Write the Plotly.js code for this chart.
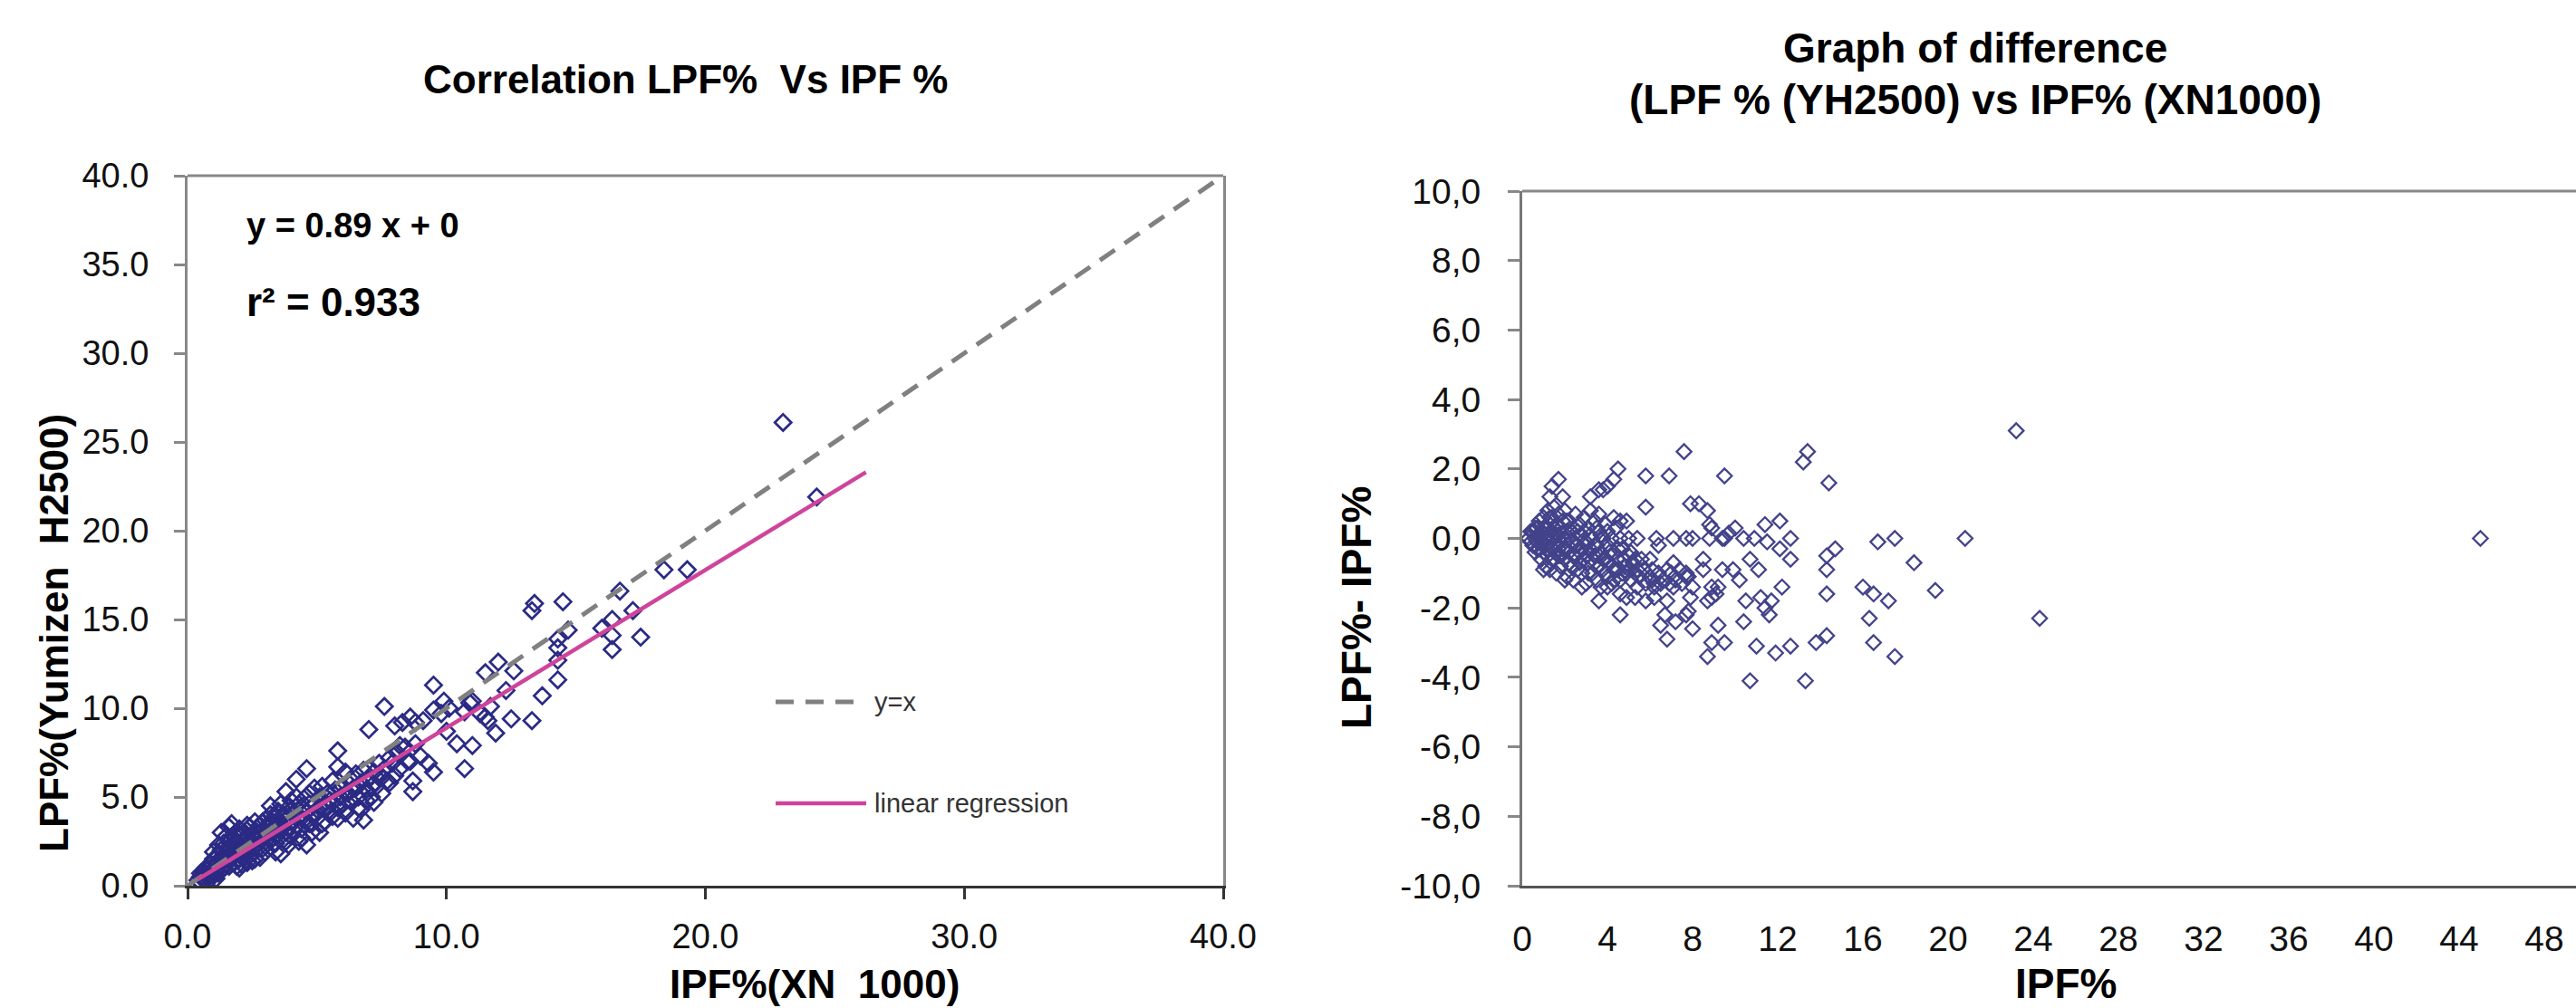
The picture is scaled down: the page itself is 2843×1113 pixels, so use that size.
<!DOCTYPE html>
<html>
<head>
<meta charset="utf-8">
<script src="https://cdn.plot.ly/plotly-3.0.1.min.js"></script>
<style>html,body{margin:0;padding:0;background:#fff;}#chart{width:2843px;height:1113px;}</style>
</head>
<body>
<div id="chart"></div>
<script>
// ---------- data: left chart (LPF% Yumizen H2500 vs IPF% XN 1000) ----------
const leftIPF = [
0.4,0.5,0.5,0.6,0.7,0.7,0.8,0.8,0.9,0.9,
1.0,1.0,1.0,1.1,1.1,1.2,1.2,1.2,1.3,1.3,
1.3,1.4,1.4,1.4,1.5,1.5,1.5,1.6,1.6,1.6,
1.7,1.7,1.7,1.8,1.8,1.8,1.9,1.9,2.0,2.0,
2.0,2.0,2.1,2.1,2.1,2.2,2.2,2.2,2.3,2.3,
2.4,2.4,2.4,2.5,2.5,2.5,2.6,2.6,2.6,2.7,
2.7,2.8,2.8,2.8,2.9,2.9,3.0,3.0,3.0,3.1,
3.1,3.2,3.2,3.2,3.3,3.3,3.4,3.4,3.5,3.5,
3.5,3.6,3.6,3.7,3.7,3.8,3.8,3.8,3.9,3.9,
4.0,4.0,4.0,4.1,4.1,4.2,4.2,4.2,4.3,4.3,
4.4,4.4,4.5,4.5,4.6,4.6,4.6,4.7,4.7,4.8,
4.8,4.9,4.9,5.0,5.0,5.1,5.2,5.3,5.3,5.4,
5.5,5.5,5.6,5.7,5.8,5.8,5.8,5.8,5.9,6.0,
6.0,6.1,6.2,6.3,6.3,6.4,6.4,6.5,6.6,6.6,
6.7,6.7,6.8,6.8,6.9,7.0,7.0,7.1,7.2,7.2,
7.3,7.4,7.5,7.5,7.6,7.7,7.8,7.8,8.0,8.0,
8.1,8.2,8.3,8.4,8.5,8.6,8.6,8.7,8.7,8.8,
8.8,9.0,9.1,9.3,9.5,9.5,9.5,9.8,9.9,10.0,
10.1,10.4,10.7,10.7,10.9,11.0,11.0,11.3,11.5,11.6,
11.9,11.5,11.7,12.0,12.3,12.5,12.6,13.3,13.3,13.4,
13.7,14.3,14.3,14.3,14.3,14.5,14.7,16.0,16.4,16.4,
16.4,16.7,17.2,17.5,18.4,19.3,23.0,24.3,
0.6,1.1,1.9,2.3,3.4,3.9,4.4,5.1,5.6,6.1,
0.5,0.7,0.9,1.0,1.2,1.3,1.5,1.6,1.8,1.9,
2.0,2.1,2.2,2.3,2.4,2.5,2.6,2.7,2.8,2.9,
3.0,3.1,3.2,3.3,3.4,3.5,3.6,3.7,3.8,3.9,
4.0,4.1,4.3,4.4,4.5,4.7,4.9,5.1,5.2,5.4,
5.6,5.9,6.1,6.5,6.9,7.1,7.4,7.6,7.9,8.2
];
const leftLPF = [
0.3,0.2,0.5,0.4,0.6,0.3,0.9,0.5,0.7,1.2,
0.6,1.0,1.5,0.8,1.3,1.1,1.7,0.7,1.4,2.0,
3.0,1.0,1.6,2.4,1.3,1.9,2.8,1.1,2.2,3.3,
1.6,2.6,3.5,1.3,2.0,2.9,1.8,2.4,1.5,2.1,
2.8,3.2,1.2,1.9,2.5,1.6,2.3,3.0,2.0,2.7,
1.7,2.4,3.3,1.4,2.1,2.9,1.9,2.6,3.6,2.3,
3.0,1.6,2.7,3.4,2.1,3.1,2.5,3.7,1.9,2.9,
3.3,2.2,4.5,3.6,2.7,3.1,3.9,2.4,3.2,4.2,
2.9,1.8,3.5,2.6,4.0,3.0,5.3,3.7,3.3,4.4,
2.8,3.6,4.8,3.1,4.1,6.0,3.4,5.0,3.9,2.5,
4.4,3.2,3.7,4.9,6.6,2.3,4.2,3.5,5.2,4.0,
3.0,4.6,5.5,3.8,4.3,5.0,3.5,4.6,3.6,5.2,
4.1,4.8,3.9,5.4,6.7,7.6,4.4,3.8,5.0,4.6,
5.6,4.1,5.2,6.0,4.8,3.8,5.5,6.3,5.0,4.4,
4.3,5.8,3.7,6.5,5.4,8.8,6.0,5.0,4.7,6.4,
5.6,6.9,5.2,6.1,10.1,5.9,5.8,7.2,6.2,9.0,
7.5,6.6,9.2,7.8,7.0,9.5,7.0,5.3,5.9,8.0,
9.2,7.3,9.3,6.9,6.4,9.9,11.3,9.7,10.4,8.7,
10.0,8.0,9.8,6.6,10.3,7.9,10.4,9.7,9.5,9.3,
8.6,12.0,10.1,12.6,11.0,9.4,12.1,9.3,15.5,15.9,
10.7,13.9,13.4,12.7,11.6,16.0,14.4,14.5,15.0,14.1,
13.3,16.6,15.5,14.0,17.8,17.8,26.1,21.9,
0.8,0.4,1.1,1.3,1.9,2.3,2.7,3.0,4.7,6.4,
0.7,1.0,0.4,1.9,2.3,0.9,2.3,1.6,2.4,3.0,
1.0,2.9,1.9,3.4,2.0,2.5,1.5,2.7,2.2,3.6,
3.0,2.4,4.0,3.5,2.8,3.7,4.6,3.3,2.5,3.9,
4.3,3.6,4.6,3.8,4.3,4.6,4.0,4.4,5.6,4.4,
5.9,5.5,5.2,5.5,4.8,5.6,6.3,6.6,6.9,7.9
];
const identityX = [0, 40];
const identityY = [0, 40];
const regressionX = [0.4, 26.2];
const regressionY = [0.36, 23.3];

// ---------- data: right chart (difference LPF% - IPF% vs IPF%) ----------
const diffIPF = [
0.3,0.4,0.5,0.5,0.6,0.6,0.7,0.7,0.8,0.8,
0.8,0.9,0.9,1.0,1.0,1.0,1.1,1.1,1.1,1.2,
1.2,1.2,1.3,1.3,1.3,1.4,1.4,1.4,1.5,1.5,
1.5,1.6,1.6,1.6,1.7,1.7,1.7,1.8,1.8,1.8,
1.9,1.9,2.0,2.0,2.0,2.1,2.1,2.2,2.2,2.3,
2.3,2.4,2.4,2.5,2.5,2.5,2.6,2.6,2.7,2.7,
2.8,2.8,2.9,2.9,3.0,3.0,3.1,3.1,3.2,3.2,
3.3,3.3,3.4,3.4,3.5,3.5,3.6,3.6,3.7,3.7,
3.8,3.8,3.9,3.9,4.0,4.0,4.1,4.2,4.2,4.3,
4.4,4.4,4.5,4.6,4.6,4.7,4.8,4.9,5.0,5.1,
5.2,5.3,5.5,5.6,5.8,6.0,6.2,6.4,6.6,6.8,
6.9,7.2,7.5,7.7,3.6,4.3,4.6,4.9,5.4,5.0,
7.6,13.4,13.2,14.4,9.5,6.9,5.8,5.8,4.5,4.3,
4.0,3.8,3.6,3.2,1.7,1.4,1.9,1.3,7.9,8.3,
8.7,8.8,8.9,11.4,12.1,10.0,9.7,9.5,6.3,7.1,
7.7,8.0,8.8,9.4,10.4,10.9,12.6,16.7,17.5,20.8,
23.2,45.0,18.4,19.4,17.2,17.5,24.3,16.0,16.5,16.3,
16.5,14.7,14.3,14.3,14.3,14.3,13.8,13.3,10.7,12.6,
11.9,11.0,8.7,8.9,9.5,6.8,6.5,7.2,8.0,9.2,
10.4,11.6,11.4,11.7,11.2,12.2,12.6,10.7,11.1,10.5,
10.2,9.9,9.4,9.1,8.9,8.7,9.2,8.9,8.5,8.5,
8.0,7.9,7.8,7.7,7.4,7.7,7.8,7.1,7.1,6.8,
6.7,6.2,5.8,6.2,6.1,6.4,6.0,5.4,5.4,5.3,
4.9,4.6,4.6,3.6,2.8,2.0,1.0,4.0,4.3,4.5,
4.8,5.1,12.1,11.5,
0.4,0.6,0.7,0.9,1.0,1.1,1.2,1.3,1.4,1.5,
1.6,1.7,1.8,1.9,2.0,2.1,2.2,2.3,2.4,2.5,
2.6,2.7,2.8,2.9,3.0,3.1,3.2,3.3,3.4,3.5,
3.6,3.7,3.8,3.9,4.0,4.1,4.3,4.5,4.7,5.0,
5.3,5.7,6.1,6.5,7.0
];
const diffValue = [
0.0,-0.1,0.2,-0.2,0.0,-0.4,0.3,-0.1,0.5,-0.3,
0.1,-0.6,0.2,0.0,-0.4,0.6,-0.2,0.3,-0.8,0.1,
-0.5,0.8,-0.1,0.4,-0.9,0.2,-0.3,0.6,-0.6,0.0,
0.9,-0.2,0.4,-1.0,0.1,-0.5,0.7,-0.1,0.3,-0.8,
0.5,-0.3,0.0,-0.6,0.8,-1.1,0.2,-0.4,0.5,-0.1,
-0.8,0.3,-1.2,0.0,-0.5,0.7,-0.2,-0.9,0.4,-0.4,
0.1,-1.0,-0.6,0.6,-0.1,-1.3,0.3,-0.7,-0.3,0.8,
-1.0,0.0,-0.5,0.5,-0.2,-1.2,-0.8,0.2,-0.4,-1.4,
0.0,-0.9,-0.6,0.4,-1.1,-0.2,-0.7,0.0,-1.3,-0.4,
-0.9,0.3,-0.6,-1.2,0.0,-0.3,-0.8,-1.0,-0.5,-1.2,
-0.7,-1.0,-1.1,-0.6,-1.3,-1.1,-1.4,-1.0,-1.2,-0.9,
-1.3,-1.2,-1.3,-1.1,0.7,0.6,0.5,0.5,0.0,0.0,
2.5,2.5,2.2,1.6,1.8,1.8,1.8,0.9,2.0,1.7,
1.5,1.4,1.4,1.2,1.7,1.5,1.2,1.2,1.0,1.0,
0.8,0.4,0.3,0.4,0.5,0.3,0.15,0.0,0.0,0.0,
0.0,0.0,0.0,0.0,0.0,0.0,0.0,-0.1,0.0,0.0,
3.1,0.0,-0.7,-1.5,-1.8,-3.4,-2.3,-1.4,-1.6,-2.3,
-3.0,-0.3,-0.5,-0.9,-1.6,-2.8,-3.0,-4.1,-4.1,-3.1,
-3.3,-3.1,-3.4,-3.0,-3.0,-2.9,-2.5,-2.4,-2.6,-2.5,
-2.4,-2.2,-2.0,-1.8,-1.7,-1.4,-0.6,-0.6,-0.9,-1.8,
-1.2,-0.9,-0.9,-1.6,-1.7,-1.8,-1.4,-1.4,-0.9,-0.6,
-1.4,-1.7,-2.1,-2.2,-0.9,-1.0,-1.1,-1.4,-0.7,-1.8,
-2.2,-1.7,-1.8,-1.3,-0.9,-0.2,-0.6,-0.9,-1.4,-1.7,
-1.7,-1.6,-2.2,-1.8,-1.4,-1.2,-0.9,-1.4,-1.2,-0.9,
-0.6,-0.4,-0.3,-0.1,
0.2,0.3,-0.3,-0.1,0.3,0.0,-0.3,0.6,-0.6,0.3,
0.1,-0.3,-0.5,0.1,-0.3,0.5,-0.7,0.2,-0.5,-0.2,
0.2,-0.7,-0.3,0.2,-0.5,-1.0,0.1,-0.6,-0.2,0.3,
-0.5,0.1,-0.6,-1.0,0.2,-0.4,-0.9,-0.3,-1.0,-0.9,
-0.6,-0.9,-1.2,-1.3,-1.0
];

// ---------- tick labels ----------
const leftXTicks = [0, 10, 20, 30, 40];
const leftXLabels = ['0.0', '10.0', '20.0', '30.0', '40.0'];
const leftYTicks = [0, 5, 10, 15, 20, 25, 30, 35, 40];
const leftYLabels = ['0.0', '5.0', '10.0', '15.0', '20.0', '25.0', '30.0', '35.0', '40.0'];
const rightXTicks = [0, 4, 8, 12, 16, 20, 24, 28, 32, 36, 40, 44, 48];
const rightXLabels = ['0', '4', '8', '12', '16', '20', '24', '28', '32', '36', '40', '44', '48'];
const rightYTicks = [-10, -8, -6, -4, -2, 0, 2, 4, 6, 8, 10];
const rightYLabels = ['-10,0', '-8,0', '-6,0', '-4,0', '-2,0', '0,0', '2,0', '4,0', '6,0', '8,0', '10,0'];

// ---------- layout helpers (pixel -> paper) ----------
const W = 2843, H = 1113;
const fx = p => p / W;
const fy = p => 1 - p / H;
const FONT = 'Liberation Sans, Arial, Helvetica, sans-serif';

const traces = [
  { type: 'scatter', mode: 'markers', x: leftIPF, y: leftLPF, xaxis: 'x', yaxis: 'y',
    marker: { symbol: 'diamond-open', size: 14, color: '#2b2b85', line: { width: 2.7, color: '#2b2b85' } },
    hoverinfo: 'x+y' },
  { type: 'scatter', mode: 'lines', x: identityX, y: identityY, xaxis: 'x', yaxis: 'y',
    line: { color: '#808080', width: 5, dash: '20px,13px' }, name: 'y=x' },
  { type: 'scatter', mode: 'lines', x: regressionX, y: regressionY, xaxis: 'x', yaxis: 'y',
    line: { color: '#cf449b', width: 4.5 }, name: 'linear regression' },
  { type: 'scatter', mode: 'markers', x: diffIPF, y: diffValue, xaxis: 'x2', yaxis: 'y2',
    marker: { symbol: 'diamond-open', size: 12.5, color: '#43438b', line: { width: 2.3, color: '#43438b' } },
    hoverinfo: 'x+y' }
];

const tickFontL = { family: FONT, size: 38, color: '#111' };
const tickFontR = { family: FONT, size: 39, color: '#111' };

const layout = {
  width: W, height: H,
  margin: { l: 0, r: 0, t: 0, b: 0, pad: 0 },
  paper_bgcolor: '#ffffff', plot_bgcolor: '#ffffff',
  showlegend: false,
  font: { family: FONT },
  xaxis: {
    domain: [fx(207), fx(1350)], range: [0, 40], anchor: 'y',
    tickmode: 'array', tickvals: leftXTicks, ticktext: leftXLabels,
    ticks: 'outside', ticklen: 12, tickwidth: 3, tickcolor: '#333',
    showline: true, linecolor: '#333', linewidth: 3,
    showgrid: false, zeroline: false, tickfont: tickFontL, ticklabelstandoff: 8
  },
  yaxis: {
    domain: [fy(978), fy(194)], range: [0, 40], anchor: 'x',
    tickmode: 'array', tickvals: leftYTicks, ticktext: leftYLabels,
    ticks: 'outside', ticklen: 12, tickwidth: 3, tickcolor: '#888',
    showline: true, linecolor: '#888', linewidth: 3, mirror: true,
    showgrid: false, zeroline: false, tickfont: tickFontL, ticklabelstandoff: 20
  },
  xaxis2: {
    domain: [fx(1680), 1], range: [0, 49.49], anchor: 'y2',
    tickmode: 'array', tickvals: rightXTicks, ticktext: rightXLabels,
    ticks: '', showline: true, linecolor: '#555', linewidth: 3,
    showgrid: false, zeroline: false, tickfont: tickFontR, ticklabelstandoff: 22
  },
  xaxis3: {
    overlaying: 'x2', anchor: 'free', position: fy(594), range: [0, 49.49],
    tickmode: 'array', tickvals: rightXTicks, showticklabels: false,
    ticks: 'outside', ticklen: 13, tickwidth: 3, tickcolor: '#888',
    showline: true, linecolor: '#888', linewidth: 3,
    showgrid: false, zeroline: false
  },
  yaxis2: {
    domain: [fy(978), fy(211)], range: [-10, 10], anchor: 'x2',
    tickmode: 'array', tickvals: rightYTicks, ticktext: rightYLabels,
    ticks: 'outside', ticklen: 13, tickwidth: 3, tickcolor: '#888',
    showline: true, linecolor: '#777', linewidth: 3,
    showgrid: false, zeroline: false, tickfont: tickFontR, ticklabelstandoff: 22
  },
  shapes: [
    { type: 'line', xref: 'x domain', yref: 'y domain', x0: 0, x1: 1, y0: 1, y1: 1,
      line: { color: '#888', width: 3 } },
    { type: 'line', xref: 'x2 domain', yref: 'y2 domain', x0: 0, x1: 1, y0: 1, y1: 1,
      line: { color: '#888', width: 3 } },
    { type: 'line', xref: 'paper', yref: 'paper', x0: fx(856), x1: fx(955), y0: fy(775), y1: fy(775),
      line: { color: '#808080', width: 5, dash: '20px,13px' } },
    { type: 'line', xref: 'paper', yref: 'paper', x0: fx(856), x1: fx(956), y0: fy(887), y1: fy(887),
      line: { color: '#cf449b', width: 4.5 } }
  ],
  annotations: [
    { text: '<b>Correlation LPF%\u00a0 Vs IPF %</b>', xref: 'paper', yref: 'paper', x: fx(756), y: fy(87),
      xanchor: 'center', yanchor: 'middle', showarrow: false, font: { family: FONT, size: 44, color: '#000' } },
    { text: '<b>Graph of difference</b>', xref: 'paper', yref: 'paper', x: fx(2180), y: fy(53),
      xanchor: 'center', yanchor: 'middle', showarrow: false, font: { family: FONT, size: 46, color: '#000' } },
    { text: '<b>(LPF % (YH2500) vs IPF% (XN1000)</b>', xref: 'paper', yref: 'paper', x: fx(2180), y: fy(110),
      xanchor: 'center', yanchor: 'middle', showarrow: false, font: { family: FONT, size: 46, color: '#000' } },
    { text: '<b>y = 0.89 x + 0</b>', xref: 'paper', yref: 'paper', x: fx(270), y: fy(249),
      xanchor: 'left', yanchor: 'middle', showarrow: false, font: { family: FONT, size: 38, color: '#000' } },
    { text: '<b>r² = 0.933</b>', xref: 'paper', yref: 'paper', x: fx(270), y: fy(333),
      xanchor: 'left', yanchor: 'middle', showarrow: false, font: { family: FONT, size: 44, color: '#000' } },
    { text: 'y=x', xref: 'paper', yref: 'paper', x: fx(963), y: fy(775),
      xanchor: 'left', yanchor: 'middle', showarrow: false, font: { family: FONT, size: 29, color: '#333' } },
    { text: 'linear regression', xref: 'paper', yref: 'paper', x: fx(963), y: fy(887),
      xanchor: 'left', yanchor: 'middle', showarrow: false, font: { family: FONT, size: 29, color: '#333' } },
    { text: '<b>IPF%(XN\u00a0 1000)</b>', xref: 'paper', yref: 'paper', x: fx(899), y: fy(1086),
      xanchor: 'center', yanchor: 'middle', showarrow: false, font: { family: FONT, size: 44, color: '#000' } },
    { text: '<b>LPF%(Yumizen\u00a0 H2500)</b>', xref: 'paper', yref: 'paper', x: fx(59), y: fy(699),
      xanchor: 'center', yanchor: 'middle', textangle: -90, showarrow: false, font: { family: FONT, size: 44, color: '#000' } },
    { text: '<b>LPF%- IPF%</b>', xref: 'paper', yref: 'paper', x: fx(1497), y: fy(671),
      xanchor: 'center', yanchor: 'middle', textangle: -90, showarrow: false, font: { family: FONT, size: 46, color: '#000' } },
    { text: '<b>IPF%</b>', xref: 'paper', yref: 'paper', x: fx(2280), y: fy(1086),
      xanchor: 'center', yanchor: 'middle', showarrow: false, font: { family: FONT, size: 46, color: '#000' } }
  ]
};

Plotly.newPlot('chart', traces, layout, { staticPlot: true, displayModeBar: false });
</script>
</body>
</html>
